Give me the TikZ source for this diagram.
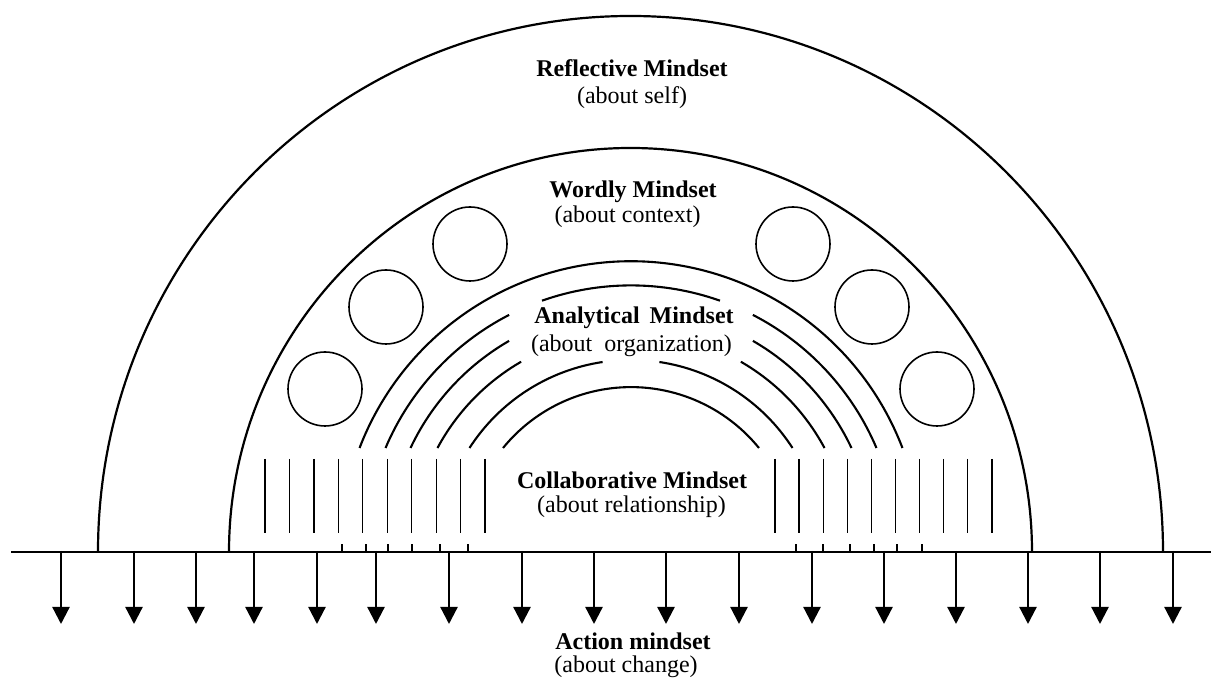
\documentclass[tikz,border=0pt]{standalone}
\usepackage{fontspec}
\setmainfont{Liberation Serif}
\usetikzlibrary{arrows.meta}
\newcommand\arcseg[3]{\draw[arcline] (C) ++(#2:#1pt) arc[start angle=#2,end angle=#3,radius=#1pt];}
\begin{document}
\begin{tikzpicture}[x=1pt,y=1pt,
  lbl/.style={anchor=base,inner sep=0pt,font=\fontsize{24}{28}\selectfont},
  ttl/.style={anchor=base,inner sep=0pt,font=\fontsize{24}{28}\selectfont\bfseries},
  bigarc/.style={line width=2.2pt},
  arcline/.style={line width=2.1pt},
  circ/.style={draw,circle,line width=1.6pt,minimum size=74pt,inner sep=0pt},
  hatch/.style={line width=1.3pt},
  tick/.style={line width=1.6pt},
  arr/.style={line width=2.3pt,-{Triangle[length=17pt,width=17pt]}}
]
\useasboundingbox (0,0) rectangle (1211,684);
\coordinate (C) at (631,132);
% ground line
\coordinate (gl) at (11,132);
\coordinate (gr) at (1211,132);
\draw[line width=2pt] (gl) -- (gr);
% outer arcs
\draw[bigarc] (98,132) arc[start angle=180,end angle=0,x radius=532.5pt,y radius=536pt];
\draw[bigarc] (229,132) arc[start angle=180,end angle=0,x radius=401.5pt,y radius=404pt];
% analytical arcs
\arcseg{290.7}{20.96}{159.04}
\arcseg{266.6}{22.96}{62.8}
\arcseg{266.6}{70.5}{109.5}
\arcseg{266.6}{117.2}{157.04}
\arcseg{243.8}{25.25}{60}
\arcseg{243.8}{120}{154.75}
\arcseg{219.7}{28.25}{60}
\arcseg{219.7}{120}{151.75}
\arcseg{192.1}{32.78}{81.5}
\arcseg{192.1}{98.5}{147.22}
\arcseg{164.9}{39.1}{140.9}
% circles
\node[circ] (cl1) at (470,440) {};
\node[circ] (cl2) at (386,377) {};
\node[circ] (cl3) at (325,295) {};
\node[circ] (cr1) at (793,440) {};
\node[circ] (cr2) at (872,377) {};
\node[circ] (cr3) at (937,295) {};
% hatch lines
\foreach \i in {0,...,9} {
  \draw[hatch] ({265+24.45*\i},225) -- ++(0,-74);
  \draw[hatch] ({775+24.1*\i},225) -- ++(0,-74);
}
% ticks
\foreach \x in {342,366,388,412,440,468,796,823,850,874,897,922}
  \draw[tick] (\x,132) -- (\x,140);
% arrows
\foreach \x in {61,134,196,254,317,376,449,522,594,666,739,812,884,956,1028,1100,1173} {
  \coordinate (a\x) at (\x,133);
  \coordinate (b\x) at (\x,60);
  \draw[arr] (a\x) -- (b\x);
}
% labels
\node[ttl] (refl) at (632,607) {Reflective Mindset};
\node[lbl] (refl2) at (632,580) {(about self)};
\node[ttl] (word) at (633,486) {Wordly Mindset};
\node[lbl] (word2) at (627.5,461) {(about context)};
\node[ttl] (anal) at (634,360) {Analytical\ \,Mindset};
\node[lbl] (anal2) at (631.5,332) {(about\ \ organization)};
\node[ttl] (coll) at (632,195) {Collaborative Mindset};
\node[lbl] (coll2) at (631.5,171) {(about relationship)};
\node[ttl] (act) at (633,34) {Action mindset};
\node[lbl] (act2) at (626,11) {(about change)};
\end{tikzpicture}
\end{document}
